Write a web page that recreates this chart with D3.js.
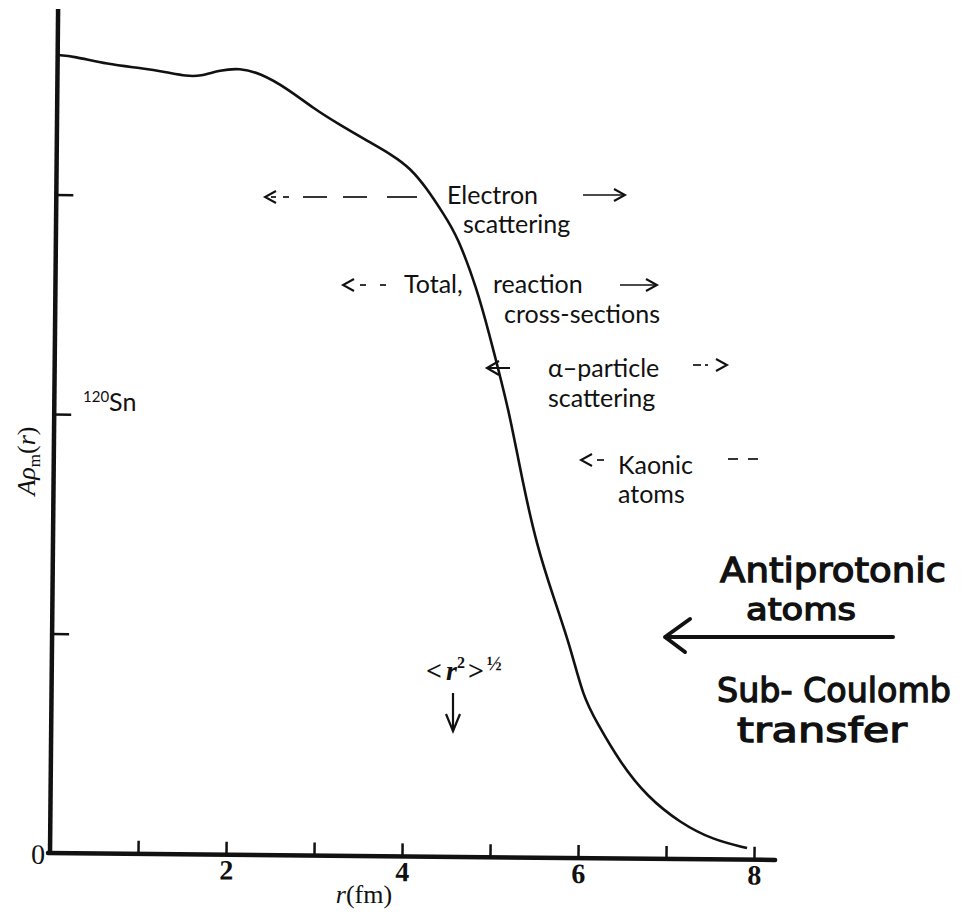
<!DOCTYPE html>
<html>
<head>
<meta charset="utf-8">
<script src="https://cdn.jsdelivr.net/npm/d3@7"></script>
<style>
  body { margin: 0; background: #fff; }
  svg { display: block; }
</style>
</head>
<body>
<div id="chart"></div>
<script>
// radius r (fm) and matter density A*rho_m(r) (in units of the y tick spacing)
const radius = [0.0, 0.18, 0.56, 0.97, 1.24, 1.47, 1.62, 1.85, 2.07, 2.30, 2.61, 2.91,
  3.22, 3.52, 3.82, 4.02, 4.21, 4.40, 4.56, 4.79, 4.94, 5.04, 5.18, 5.33, 5.50,
  5.69, 5.89, 6.04, 6.20, 6.47, 6.78, 7.16, 7.53, 7.92];
const density = [3.635, 3.631, 3.596, 3.579, 3.562, 3.545, 3.545, 3.574, 3.584, 3.562,
  3.494, 3.404, 3.328, 3.260, 3.193, 3.135, 3.044, 2.930, 2.830, 2.590, 2.375, 2.225,
  2.011, 1.710, 1.419, 1.191, 0.963, 0.736, 0.618, 0.436, 0.282, 0.164, 0.089, 0.053];

const xTicks = [1, 2, 3, 4, 5, 6, 7, 8];
const xTickLabels = [2, 4, 6, 8];
const yTicks = [1, 2, 3];
const xMax = 8.24;
const yMax = 3.845;

const W = 971, H = 915;
const ink = "#111";
const serif = "'Liberation Serif', 'DejaVu Serif', serif";
const sans = "Lato, 'Open Sans', sans-serif";
const hand = "'DejaVu Sans', sans-serif";

const svg = d3.select("#chart").append("svg")
  .attr("width", W).attr("height", H)
  .style("background", "#fff");

// the scanned plot is slightly tilted
const plot = svg.append("g")
  .attr("transform", "translate(50,853) rotate(0.55)");

const x = d3.scaleLinear().domain([0, 8]).range([0, 704]);
const y = d3.scaleLinear().domain([0, 1]).range([0, -219.5]);

// axis lines
plot.append("line")
  .attr("x1", x(0) - 2).attr("x2", x(xMax))
  .attr("y1", y(0)).attr("y2", y(0))
  .attr("stroke", ink).attr("stroke-width", 4.5).attr("stroke-linecap", "round");
plot.append("line")
  .attr("x1", x(0)).attr("x2", x(0))
  .attr("y1", y(0) + 2).attr("y2", y(yMax))
  .attr("stroke", ink).attr("stroke-width", 4.5);

// x ticks (pointing up)
const xTickAxis = plot.append("g")
  .call(d3.axisBottom(x).tickValues(xTicks).tickSizeInner(-13).tickSizeOuter(0).tickFormat(""));
xTickAxis.select(".domain").remove();
xTickAxis.selectAll("line").attr("stroke", ink).attr("stroke-width", 2.5);

// x tick labels
const xLabelAxis = plot.append("g")
  .call(d3.axisBottom(x).tickValues(xTickLabels).tickSize(0).tickPadding(5).tickFormat(d3.format("d")));
xLabelAxis.select(".domain").remove();
xLabelAxis.selectAll("text")
  .attr("fill", ink)
  .style("font-family", serif)
  .style("font-weight", "bold")
  .style("font-size", "28px");

// y ticks (pointing right)
const yTickAxis = plot.append("g")
  .call(d3.axisRight(y).tickValues(yTicks).tickSizeInner(17).tickSizeOuter(0).tickFormat(""));
yTickAxis.select(".domain").remove();
yTickAxis.selectAll("line").attr("stroke", ink).attr("stroke-width", 2.5);

// origin label
plot.append("text")
  .attr("x", -5).attr("y", 11)
  .attr("text-anchor", "end")
  .attr("fill", ink)
  .style("font-family", serif)
  .style("font-size", "28px")
  .text("0");

// density curve
const points = radius.map((r, i) => [r, density[i]]);
const line = d3.line()
  .x(d => x(d[0]))
  .y(d => y(d[1]))
  .curve(d3.curveBasis);

plot.append("path")
  .datum(points)
  .attr("d", line)
  .attr("fill", "none")
  .attr("stroke", ink)
  .attr("stroke-width", 2.6);

// axis titles
svg.append("text")
  .attr("x", 364).attr("y", 903)
  .attr("text-anchor", "middle")
  .attr("fill", ink)
  .style("font-family", serif)
  .style("font-size", "26px")
  .call(t => {
    t.append("tspan").style("font-style", "italic").text("r");
    t.append("tspan").text("(fm)");
  });

svg.append("text")
  .attr("transform", "translate(35,461) rotate(-90)")
  .attr("text-anchor", "middle")
  .attr("fill", ink)
  .style("font-family", serif)
  .style("font-size", "26px")
  .call(t => {
    t.append("tspan").style("font-style", "italic").text("A\u03C1");
    t.append("tspan").attr("dy", 5).style("font-size", "17px").text("m");
    t.append("tspan").attr("dy", -5).text("(");
    t.append("tspan").style("font-style", "italic").text("r");
    t.append("tspan").text(")");
  });

// nucleus label
svg.append("text")
  .attr("x", 83).attr("y", 411)
  .attr("fill", ink)
  .style("font-family", sans)
  .style("font-size", "25px")
  .call(t => {
    t.append("tspan").attr("dy", -9).style("font-size", "15px").text("120");
    t.append("tspan").attr("dy", 9).text("Sn");
  });

// probe annotations
const notes = svg.append("g")
  .attr("fill", ink)
  .style("font-family", sans)
  .style("font-size", "25px");

function label(txt, x0, y0) {
  notes.append("text").attr("x", x0).attr("y", y0).text(txt);
}
function seg(x1, x2, yy, w = 1.7) {
  svg.append("line").attr("x1", x1).attr("x2", x2).attr("y1", yy).attr("y2", yy)
    .attr("stroke", ink).attr("stroke-width", w);
}
function head(tip, yy, dir, len = 11, half = 6, w = 2) {
  svg.append("path")
    .attr("d", `M${tip - dir * len},${yy - half}L${tip},${yy}L${tip - dir * len},${yy + half}`)
    .attr("fill", "none").attr("stroke", ink).attr("stroke-width", w);
}

// Electron scattering
head(265, 197, -1);
seg(271, 276, 197); seg(283, 289, 197);
seg(303, 327, 197); seg(343, 367, 197); seg(387, 417, 197);
label("Electron", 447, 204);
label("scattering", 463, 233);
seg(583, 624, 195); head(625, 195, 1);

// Total, reaction cross-sections
head(343, 285, -1);
seg(360, 366, 285); seg(380, 386, 285);
label("Total,", 404, 293);
label("reaction", 493, 293);
label("cross-sections", 504, 323);
seg(620, 656, 285); head(657, 285, 1);

// alpha-particle scattering
head(487, 368, -1, 12, 7, 2.2);
seg(488, 510, 368, 2);
label("\u03B1\u2013particle", 548, 377);
label("scattering", 548, 407);
seg(693, 701, 365); seg(705, 708, 365); head(727, 365, 1);

// Kaonic atoms
head(581, 460, -1);
seg(597, 604, 460);
label("Kaonic", 618, 474);
label("atoms", 618, 503);
seg(728, 738, 459); seg(748, 758, 459);

// rms radius marker
svg.append("text")
  .attr("x", 426).attr("y", 680)
  .attr("fill", ink)
  .style("font-family", serif)
  .style("font-size", "28px")
  .style("font-weight", "bold")
  .call(t => {
    t.append("tspan").text("<");
    t.append("tspan").attr("dx", 4).style("font-style", "italic").text("r");
    t.append("tspan").attr("dy", -12).style("font-size", "16px").text("2");
    t.append("tspan").attr("dy", 12).attr("dx", 3).text(">");
    t.append("tspan").attr("dy", -10).attr("dx", 3).style("font-size", "20px").text("\u00BD");
  });
svg.append("line").attr("x1", 453).attr("x2", 453).attr("y1", 693).attr("y2", 731)
  .attr("stroke", ink).attr("stroke-width", 2.2);
svg.append("path").attr("d", "M446,714L453,731L460,714")
  .attr("fill", "none").attr("stroke", ink).attr("stroke-width", 2.2);

// hand-written note
const handG = svg.append("g")
  .attr("fill", ink)
  .attr("stroke", ink)
  .attr("stroke-width", 1.3)
  .style("font-family", hand);
function handText(txt, x0, y0, size, len) {
  handG.append("text").attr("x", x0).attr("y", y0)
    .style("font-size", size + "px")
    .attr("textLength", len).attr("lengthAdjust", "spacingAndGlyphs")
    .text(txt);
}
handText("Antiprotonic", 720, 582, 34, 226);
handText("atoms", 746, 620, 30, 110);
handText("Sub- Coulomb", 717, 702, 34, 234);
handText("transfer", 737, 742, 34, 170);
svg.append("line").attr("x1", 666).attr("x2", 893).attr("y1", 637).attr("y2", 637)
  .attr("stroke", ink).attr("stroke-width", 4).attr("stroke-linecap", "round");
svg.append("path").attr("d", "M690,619L665,637L685,652")
  .attr("fill", "none").attr("stroke", ink).attr("stroke-width", 4)
  .attr("stroke-linecap", "round").attr("stroke-linejoin", "round");
</script>
</body>
</html>
